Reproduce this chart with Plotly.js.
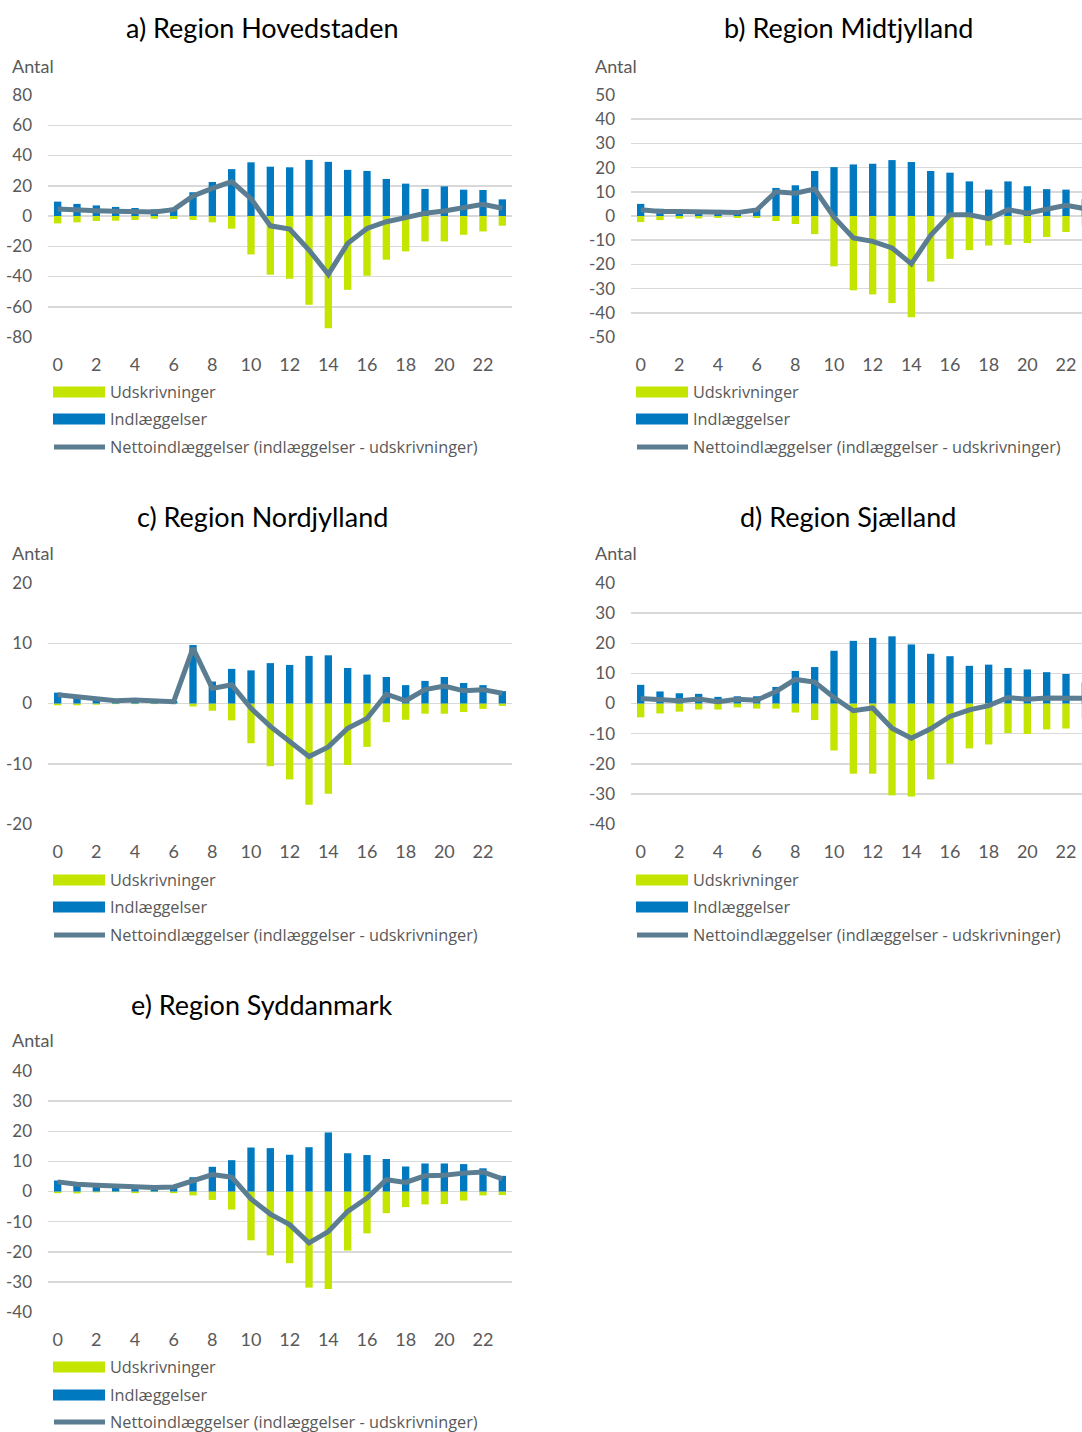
<!DOCTYPE html>
<html>
<head>
<meta charset="utf-8">
<script src="https://cdn.plot.ly/plotly-3.0.1.min.js"></script>
<style>
html, body { margin: 0; padding: 0; overflow: hidden; background: #fff; }
#chart { width: 1100px; height: 1432px; }
</style>
</head>
<body>
<div id="chart"></div>
<script>
// ---------------- DATA ----------------
const hours = [0,1,2,3,4,5,6,7,8,9,10,11,12,13,14,15,16,17,18,19,20,21,22,23];
const xTickVals = [0,2,4,6,8,10,12,14,16,18,20,22];

const seriesNames = ["Udskrivninger", "Indlæggelser", "Nettoindlæggelser (indlæggelser - udskrivninger)"];
const panelTitles = ["a) Region Hovedstaden", "b) Region Midtjylland", "c) Region Nordjylland", "d) Region Sjælland", "e) Region Syddanmark"];
const yAxisLabel = "Antal";

// a) Hovedstaden
const indlA = [9.5, 8, 7, 6, 5.3, 4.4, 5.5, 15.7, 22.5, 31, 35.5, 32.6, 32.2, 37.1, 35.8, 30.5, 29.8, 24.5, 21.4, 17.9, 19.6, 17.4, 17.2, 11];
const udskA = [-4.9, -4.2, -3.3, -3.1, -2.6, -1.8, -2, -2.6, -4.2, -8.4, -25.4, -38.8, -41.5, -58.7, -74.2, -48.8, -39.5, -28.9, -23.4, -16.8, -16.8, -12.4, -10.2, -6.4];
const nettoA = [4.6, 3.8, 3.5, 3.1, 3.1, 2.6, 4.2, 13.2, 18.3, 22.7, 11.5, -6.5, -8.6, -22.5, -38.6, -18.1, -8.2, -3.8, -1.1, 1.8, 3.3, 5.1, 7.7, 5.1];
const yTicksA = [80, 60, 40, 20, 0, -20, -40, -60, -80];

// b) Midtjylland
const indlB = [5, 3, 2.5, 2.5, 2.5, 2, 3.3, 11.6, 12.7, 18.6, 20.2, 21.3, 21.6, 23.1, 22.3, 18.6, 17.9, 14.3, 10.9, 14.3, 12.3, 11.1, 10.9, 7];
const udskB = [-2.5, -1.7, -1.1, -1, -0.8, -0.8, -0.8, -2.1, -3.3, -7.5, -20.8, -30.7, -32.4, -36, -41.8, -27.1, -17.7, -14.1, -12.2, -11.9, -11.2, -8.7, -6.6, -4];
const nettoB = [2.6, 1.9, 1.9, 1.9, 1.9, 1.4, 2.5, 10, 9.4, 11.1, -0.5, -9.1, -10.5, -13.2, -19.8, -8, 0.5, 0.5, -1.1, 2.6, 1.2, 2.8, 4.4, 3];
const yTicksB = [50, 40, 30, 20, 10, 0, -10, -20, -30, -40, -50];

// c) Nordjylland
const indlC = [1.8, 1.3, 1, 0.5, 0.7, 0.5, 0.4, 9.7, 3.65, 5.75, 5.5, 6.7, 6.4, 7.9, 8, 5.9, 4.8, 4.4, 3.05, 3.75, 4.4, 3.4, 3.05, 2.05];
const udskC = [-0.3, -0.3, -0.2, -0.1, -0.1, -0.1, -0.1, -0.5, -1.2, -2.8, -6.6, -10.4, -12.6, -16.8, -15, -10.2, -7.2, -3.1, -2.7, -1.7, -1.7, -1.4, -0.9, -0.4];
const nettoC = [1.45, 1.05, 0.8, 0.45, 0.6, 0.45, 0.3, 9.2, 2.5, 3.1, -0.8, -3.8, -6.3, -8.8, -7.2, -4.1, -2.5, 1.55, 0.45, 2.3, 2.9, 2.1, 2.3, 1.7];
const yTicksC = [20, 10, 0, -10, -20];

// d) Sjælland
const indlD = [6.2, 4, 3.4, 3.2, 2.2, 2.4, 2.4, 5.5, 10.8, 12.1, 17.5, 20.8, 21.8, 22.3, 19.6, 16.5, 15.7, 12.5, 12.9, 11.8, 11.3, 10.4, 9.8, 7];
const udskD = [-4.6, -3.3, -2.7, -2, -2, -1.3, -1.7, -1.7, -3, -5.5, -15.6, -23.3, -23.3, -30.5, -30.9, -25.2, -20, -14.9, -13.6, -9.8, -10.1, -8.6, -8.3, -5];
const nettoD = [1.7, 1.1, 0.9, 1.5, 0.55, 1.4, 1.1, 4, 8, 7.1, 2, -2.4, -1.5, -8.2, -11.5, -8.4, -4.3, -2.1, -0.7, 2, 1.4, 1.8, 1.8, 1.7];
const yTicksD = [40, 30, 20, 10, 0, -10, -20, -30, -40];

// e) Syddanmark
const indlE = [3.65, 2.2, 1.9, 1.4, 0.8, 0.6, 1.4, 4.75, 8.2, 10.4, 14.6, 14.4, 12.2, 14.7, 19.6, 12.7, 12.1, 10.8, 8.3, 9.3, 9.3, 9.1, 7.7, 5.2];
const udskE = [-0.55, -0.65, -0.3, -0.2, -0.55, -0.2, -0.55, -1.3, -2.8, -6, -16.2, -21.2, -23.8, -31.9, -32.4, -19.6, -13.9, -7.2, -5.2, -4.3, -4.2, -3, -1.3, -1.2];
const nettoE = [3.2, 2.4, 2.1, 1.8, 1.3, 1.3, 1.5, 3.65, 5.6, 4.75, -2.5, -7.5, -11, -17.1, -13.3, -6.6, -2.2, 3.9, 3, 5.2, 5.4, 6.1, 6.5, 4.2];
const yTicksE = [40, 30, 20, 10, 0, -10, -20, -30, -40];

// ---------------- STYLE / LAYOUT ----------------
const W = 1100, H = 1432;
const FONT = "Lato, 'Open Sans', sans-serif";
const LEGFONT = "Open Sans";
const GREEN = "#C3E500", BLUE = "#0079C1", NET = "#5B7D92", GRID = "#D9D9D9", TXT = "#595959";
const px = x => x / W;
const py = y => 1 - y / H;

const panels = [
  {indl: indlA, udsk: udskA, netto: nettoA, yt: yTicksA, title: panelTitles[0],
   xl: 48, xr: 512, top: 95, bot: 337, tx: 262, ty: 28, ax: 11, ay: 66, lx: 53, lt: 108, ly: [392, 419, 447]},
  {indl: indlB, udsk: udskB, netto: nettoB, yt: yTicksB, title: panelTitles[1],
   xl: 631, xr: 1095, top: 95, bot: 337, tx: 848, ty: 28, ax: 594, ay: 66, lx: 636, lt: 691, ly: [392, 419, 447]},
  {indl: indlC, udsk: udskC, netto: nettoC, yt: yTicksC, title: panelTitles[2],
   xl: 48, xr: 512, top: 583, bot: 824, tx: 262, ty: 516, ax: 11, ay: 553, lx: 53, lt: 108, ly: [880, 907, 935]},
  {indl: indlD, udsk: udskD, netto: nettoD, yt: yTicksD, title: panelTitles[3],
   xl: 631, xr: 1095, top: 583, bot: 824, tx: 848, ty: 516, ax: 594, ay: 553, lx: 636, lt: 691, ly: [880, 907, 935]},
  {indl: indlE, udsk: udskE, netto: nettoE, yt: yTicksE, title: panelTitles[4],
   xl: 48, xr: 512, top: 1071, bot: 1312, tx: 262, ty: 1004, ax: 11, ay: 1040, lx: 53, lt: 108, ly: [1367, 1395, 1422]}
];

const traces = [];
const layout = {
  width: W, height: H,
  margin: {l: 0, r: 0, t: 0, b: 0},
  paper_bgcolor: "#fff", plot_bgcolor: "#fff",
  barmode: "relative",
  showlegend: false,
  font: {family: FONT, color: TXT},
  shapes: [], annotations: []
};

panels.forEach((p, i) => {
  const n = i + 1;
  const xa = n === 1 ? "x" : "x" + n;
  const ya = n === 1 ? "y" : "y" + n;
  const xkey = n === 1 ? "xaxis" : "xaxis" + n;
  const ykey = n === 1 ? "yaxis" : "yaxis" + n;

  traces.push({type: "bar", x: hours, y: p.udsk, name: seriesNames[0], xaxis: xa, yaxis: ya,
    width: 0.38, marker: {color: GREEN, line: {width: 0}}, hoverinfo: "x+y"});
  traces.push({type: "bar", x: hours, y: p.indl, name: seriesNames[1], xaxis: xa, yaxis: ya,
    width: 0.38, marker: {color: BLUE, line: {width: 0}}, hoverinfo: "x+y"});
  traces.push({type: "scatter", mode: "lines", x: hours, y: p.netto, name: seriesNames[2], xaxis: xa, yaxis: ya,
    line: {color: NET, width: 5, shape: "linear"}, hoverinfo: "x+y"});

  const ymax = p.yt[0], ymin = p.yt[p.yt.length - 1];
  layout[xkey] = {
    domain: [px(p.xl), px(p.xr)], anchor: ya,
    range: [-0.5, 23.5], tickvals: xTickVals, ticktext: xTickVals.map(String),
    showgrid: false, zeroline: false, showline: false, ticks: "",
    ticklabelstandoff: 15,
    tickfont: {family: FONT, size: 18, color: TXT}, fixedrange: true
  };
  layout[ykey] = {
    domain: [py(p.bot), py(p.top)], anchor: xa,
    range: [ymin, ymax], tickvals: p.yt, ticktext: p.yt.map(String),
    showgrid: true, gridcolor: GRID, gridwidth: 1.5, zeroline: false, showline: false, ticks: "",
    ticklabelstandoff: 15,
    tickfont: {family: FONT, size: 17, color: TXT}, fixedrange: true
  };

  // titles
  layout.annotations.push({text: p.title, xref: "paper", yref: "paper", x: px(p.tx), y: py(p.ty),
    xanchor: "center", yanchor: "middle", showarrow: false, font: {family: FONT, size: 27, color: "#000"}});
  layout.annotations.push({text: yAxisLabel, xref: "paper", yref: "paper", x: px(p.ax - 1), y: py(p.ay),
    xanchor: "left", yanchor: "middle", showarrow: false, font: {family: FONT, size: 18, color: TXT}});

  // legend
  const symColors = [GREEN, BLUE];
  for (let k = 0; k < 2; k++) {
    layout.shapes.push({type: "rect", xref: "paper", yref: "paper",
      x0: px(p.lx), x1: px(p.lx + 52), y0: py(p.ly[k] - 5.5), y1: py(p.ly[k] + 5.5),
      fillcolor: symColors[k], line: {width: 0}});
  }
  layout.shapes.push({type: "line", xref: "paper", yref: "paper",
    x0: px(p.lx + 1), x1: px(p.lx + 52), y0: py(p.ly[2]), y1: py(p.ly[2]),
    line: {color: NET, width: 5}});
  for (let k = 0; k < 3; k++) {
    layout.annotations.push({text: seriesNames[k], xref: "paper", yref: "paper",
      x: px(p.lt), y: py(p.ly[k]), xanchor: "left", yanchor: "middle", showarrow: false,
      font: {family: LEGFONT, size: 16.3, color: TXT}});
  }
});

Plotly.newPlot("chart", traces, layout, {displayModeBar: false, staticPlot: true});
</script>
</body>
</html>
